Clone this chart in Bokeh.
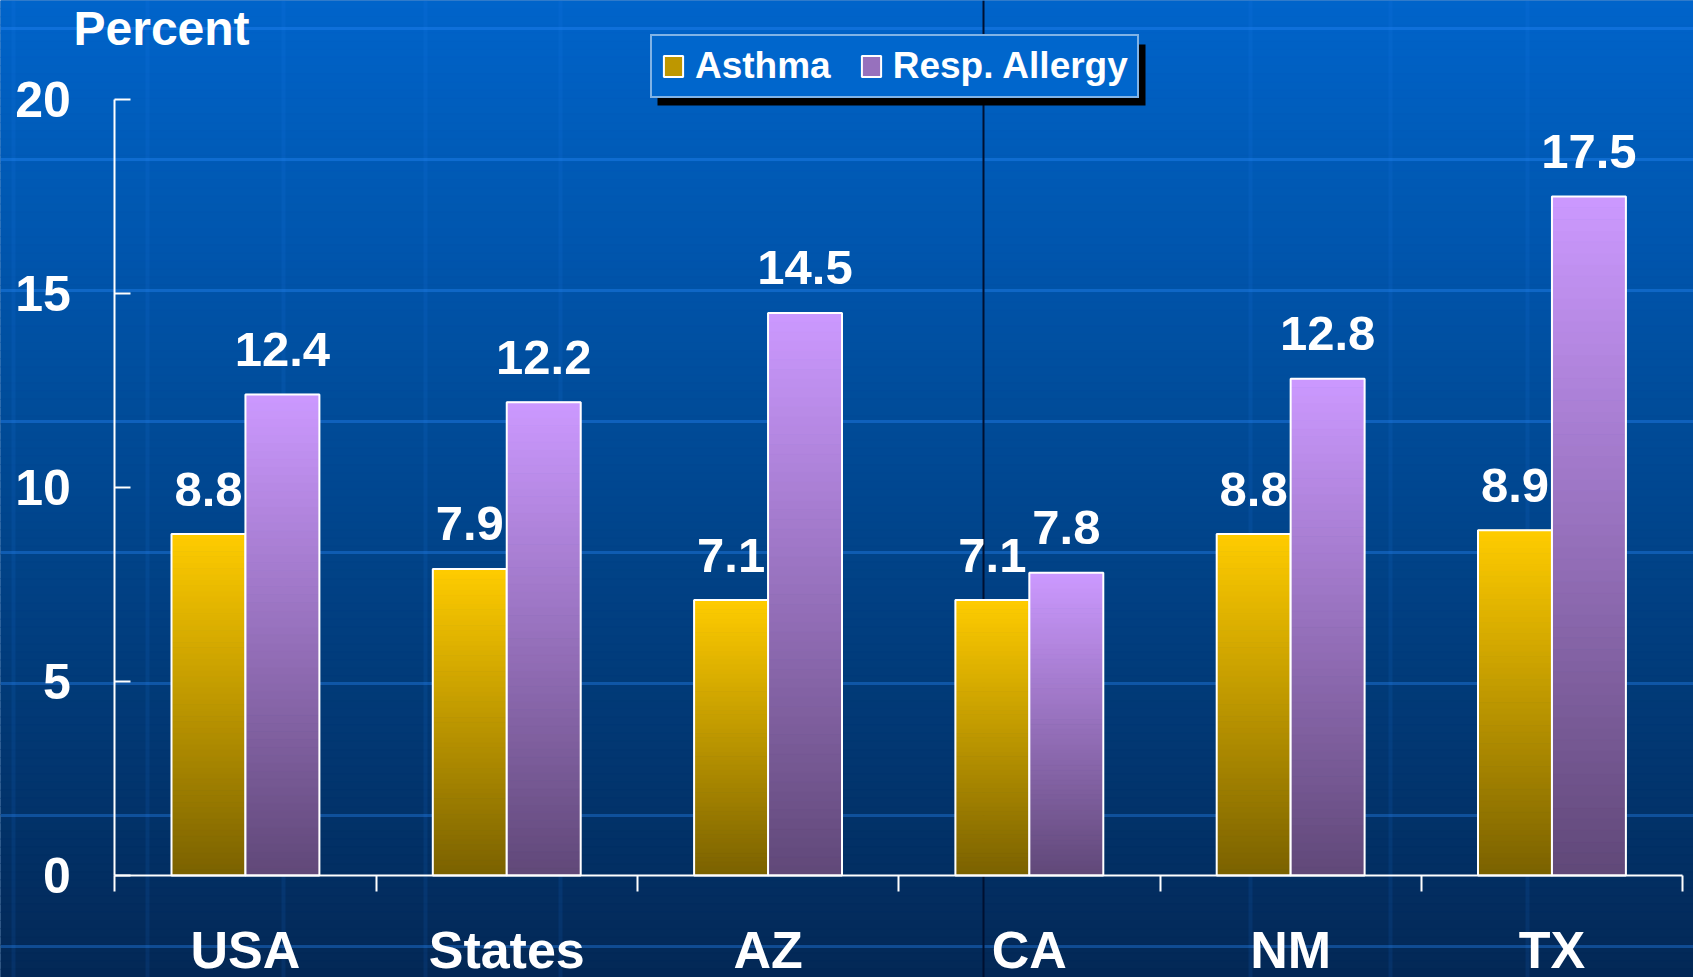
import numpy as np
from bokeh.plotting import figure
from bokeh.models import (Range1d, LinearAxis, FixedTicker, Label, Span, BoxAnnotation,
                          Legend, LegendItem, ColumnDataSource)
from bokeh.core.properties import value
from bokeh.embed import file_html
from bokeh.resources import INLINE

# ---------------- data ----------------
categories = ["USA", "States", "AZ", "CA", "NM", "TX"]
asthma = [8.8, 7.9, 7.1, 7.1, 8.8, 8.9]
allergy = [12.4, 12.2, 14.5, 7.8, 12.8, 17.5]
y_ticks = [0, 5, 10, 15, 20]
series_names = ["Asthma", "Resp. Allergy"]
y_title = "Percent"

# ---------------- layout helpers ----------------
W, H = 1693, 977
FONT = "Liberation Sans"
X0_PX, XSTEP_PX = 114.3, 261.3     # canvas px of category boundary 0, px per category
Y0_PX, YSTEP_PX = 875.0, 38.8      # canvas px of value 0, px per unit


def X(px):
    return (px - X0_PX) / XSTEP_PX


def Y(py):
    return (Y0_PX - py) / YSTEP_PX


def lerp(c0, c1, t):
    return tuple(int(round(a + (b - a) * t)) for a, b in zip(c0, c1))


def hexc(c):
    return "#%02x%02x%02x" % c


def grad(stops, t):
    for (t0, c0), (t1, c1) in zip(stops[:-1], stops[1:]):
        if t <= t1:
            return lerp(c0, c1, (t - t0) / (t1 - t0) if t1 > t0 else 0)
    return stops[-1][1]


xr = Range1d(X(0), X(W))
yr = Range1d(Y(H), Y(0))

p = figure(width=W, height=H, x_range=xr, y_range=yr, output_backend="svg",
           toolbar_location=None, x_axis_type=None, y_axis_type=None,
           min_border=0, min_border_left=0, min_border_right=0,
           min_border_top=0, min_border_bottom=0)
p.outline_line_color = None
p.background_fill_color = "#00489a"
p.border_fill_color = "#00489a"

# ---------------- background gradient ----------------
bg_stops = [(0.0, (0, 100, 202)), (0.45, (0, 74, 150)), (1.0, (3, 40, 86))]
NB = 120
edges = np.linspace(yr.end, yr.start, NB + 1)
bg = ColumnDataSource(dict(
    top=edges[:-1], bottom=edges[1:],
    color=[hexc(grad(bg_stops, (k + 0.5) / NB)) for k in range(NB)]))
p.quad(left=xr.start, right=xr.end, top="top", bottom="bottom", source=bg,
       fill_color="color", line_color="color", line_width=1, level="image")

for py in [28, 159, 290, 421, 552, 683, 815, 946]:
    p.add_layout(Span(location=Y(py), dimension="width", line_color="#2a8cff",
                      line_alpha=0.35, line_width=3, level="underlay"))
for px in [13, 147, 283, 425, 560, 1250, 1390, 1527]:
    p.add_layout(Span(location=X(px), dimension="height", line_color="#2a8cff",
                      line_alpha=0.10, line_width=4, level="underlay"))
p.add_layout(Span(location=X(983), dimension="height", line_color="#001030",
                  line_alpha=1.0, line_width=2, level="underlay"))

# ---------------- bars ----------------
BAR_W = 0.283
OFF = 0.1415
N = 60
levels = list(range(N // 2, N)) + list(range(0, N // 2))

series = [
    (asthma, -OFF, (122, 97, 0), (255, 204, 0)),
    (allergy, OFF, (96, 72, 120), (204, 153, 255)),
]
legend_items = []
for name, (vals, off, c_bot, c_top) in zip(series_names, series):
    xs = [i + 0.5 + off for i in range(len(categories))]
    L, R, B, T, C = [], [], [], [], []
    for k in levels:
        col = hexc(lerp(c_bot, c_top, (k + 0.5) / N))
        for x, v in zip(xs, vals):
            L.append(x - BAR_W / 2)
            R.append(x + BAR_W / 2)
            B.append(v * k / N)
            T.append(v * (k + 1) / N)
            C.append(col)
    src = ColumnDataSource(dict(left=L, right=R, bottom=B, top=T, color=C))
    r_fill = p.quad(left="left", right="right", bottom="bottom", top="top", source=src,
                    fill_color="color", line_color="color", line_width=1)
    osrc = ColumnDataSource(dict(x=xs, top=vals))
    r_out = p.vbar(x="x", top="top", bottom=0, width=BAR_W, source=osrc,
                   fill_alpha=0, line_color="white", line_width=2)
    tsrc = ColumnDataSource(dict(x=xs, y=vals, t=["%.1f" % v for v in vals]))
    p.text(x="x", y="y", text="t", source=tsrc, text_font=value(FONT),
           text_font_style="bold", text_font_size="49px", text_color="white",
           text_align="center", text_baseline="alphabetic", y_offset=-45)
    legend_items.append(LegendItem(label=name, renderers=[r_fill, r_out], index=0))

# ---------------- axes ----------------
yaxis = LinearAxis(fixed_location=0, bounds=(y_ticks[0], y_ticks[-1]),
                   ticker=FixedTicker(ticks=y_ticks, minor_ticks=[]))
yaxis.axis_line_color = "white"
yaxis.axis_line_width = 2
yaxis.major_tick_line_color = "white"
yaxis.major_tick_line_width = 2
yaxis.major_tick_in = 16
yaxis.major_tick_out = 0
yaxis.minor_tick_line_color = None
yaxis.major_label_standoff = 44
yaxis.major_label_text_font = FONT
yaxis.major_label_text_font_style = "bold"
yaxis.major_label_text_font_size = "50px"
yaxis.major_label_text_color = "white"
p.add_layout(yaxis, "left")

bounds_ticks = list(range(len(categories) + 1))
xaxis_t = LinearAxis(fixed_location=0, bounds=(0, len(categories)),
                     ticker=FixedTicker(ticks=bounds_ticks, minor_ticks=[]),
                     major_label_overrides={t: "" for t in bounds_ticks})
xaxis_t.axis_line_color = "white"
xaxis_t.axis_line_width = 2
xaxis_t.major_tick_line_color = "white"
xaxis_t.major_tick_line_width = 2
xaxis_t.major_tick_in = 0
xaxis_t.major_tick_out = 16
xaxis_t.minor_tick_line_color = None
xaxis_t.major_label_text_font_size = "1px"
p.add_layout(xaxis_t, "below")

centers = [i + 0.5 for i in range(len(categories))]
xaxis_l = LinearAxis(fixed_location=0,
                     ticker=FixedTicker(ticks=centers, minor_ticks=[]),
                     major_label_overrides={c: n for c, n in zip(centers, categories)})
xaxis_l.axis_line_color = None
xaxis_l.major_tick_line_color = None
xaxis_l.minor_tick_line_color = None
xaxis_l.major_tick_in = 0
xaxis_l.major_tick_out = 0
xaxis_l.major_label_standoff = 45
xaxis_l.major_label_text_font = FONT
xaxis_l.major_label_text_font_style = "bold"
xaxis_l.major_label_text_font_size = "52px"
xaxis_l.major_label_text_color = "white"
p.add_layout(xaxis_l, "below")

p.add_layout(Label(x=X(73), y=Y(28), text=y_title, text_font=FONT,
                   text_font_style="bold", text_font_size="48px",
                   text_color="white", text_baseline="alphabetic", text_align="left"))

# ---------------- legend ----------------
p.add_layout(BoxAnnotation(left=X(657), right=X(1145), top=Y(44), bottom=Y(105),
                           fill_color="black", fill_alpha=1.0, line_alpha=0))
legend = Legend(items=legend_items, location=(650, H - 98), orientation="horizontal")
legend.border_line_color = "white"
legend.border_line_width = 2
legend.background_fill_color = "#0066cc"
legend.background_fill_alpha = 1.0
legend.label_text_font = FONT
legend.label_text_font_style = "bold"
legend.label_text_font_size = "37px"
legend.label_text_color = "white"
legend.glyph_width = 24
legend.glyph_height = 26
legend.label_standoff = 10
legend.spacing = 28
legend.padding = 9
legend.margin = 0
p.add_layout(legend)

open("out.html", "w").write(file_html(p, INLINE))
